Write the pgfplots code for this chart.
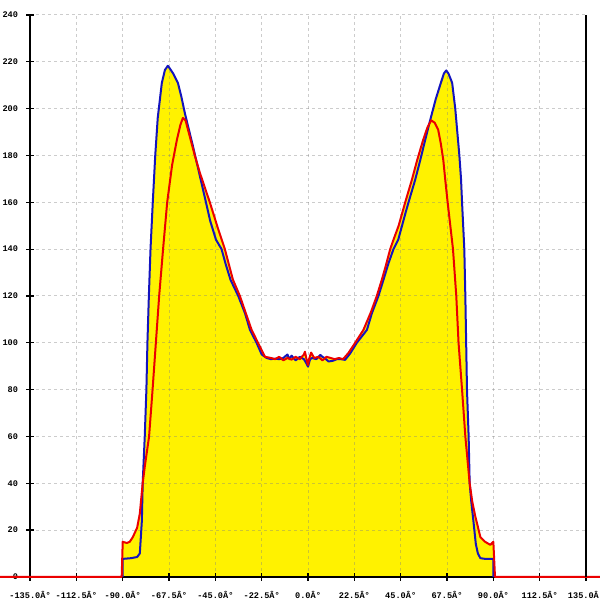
\documentclass[border=0pt]{standalone}
\usepackage{pgfplots}
\pgfplotsset{compat=1.18}
\usepackage{fontspec}
\setmonofont{Liberation Mono}
\definecolor{bl}{RGB}{20,20,190}
\definecolor{rd}{RGB}{235,0,0}
\pgfplotsset{
  layers/mylayers/.define layer set={axis background,fills,axis grid,axis ticks,axis lines,axis tick labels,main,axis descriptions,axis foreground}{},
}
\begin{document}
\begin{tikzpicture}
\begin{axis}[
  set layers=mylayers,
  scale only axis,
  width=278pt, height=281pt,
  xmin=-135, xmax=135, ymin=0, ymax=240,
  clip=false,
  axis x line=bottom, axis y line=left,
  axis line style={black, line width=0.6pt, -},
  xtick={-135,-112.5,-90,-67.5,-45,-22.5,0,22.5,45,67.5,90,112.5,135},
  xticklabels={-135.0Â°,-112.5Â°,-90.0Â°,-67.5Â°,-45.0Â°,-22.5Â°,0.0Â°,22.5Â°,45.0Â°,67.5Â°,90.0Â°,112.5Â°,135.0Â°},
  ytick={0,20,...,240},
  yticklabels={0,20,40,60,80,100,120,140,160,180,200,220,240},
  tick align=center, major tick length=4pt,
  tick style={black, line width=0.6pt},
  ticklabel style={font=\ttfamily\bfseries\fontsize{4.3}{5}\selectfont, text=black},
  xticklabel style={yshift=-1.5pt},
  yticklabel style={xshift=-0.5pt},
  grid=major,
  major grid style={gray, opacity=0.4, dash pattern=on 1.5pt off 1.5pt, line width=0.5pt},
]
\pgfplotstableread{
x y
-90 0
-90 7.7
-86 8
-83 8.5
-81.7 10
-80.7 24
-80.3 40
-79.3 60
-78.5 80
-78.0 100
-77.3 120
-76.5 140
-75.4 160
-74.2 180
-73.0 196
-71.0 211
-69.5 216.5
-68.1 218.3
-67 217
-65.5 215
-63.2 211
-61.5 205
-59.8 198
-55.9 184
-53 173
-50.1 162
-47.5 152
-44.7 144
-42.0 140
-39.8 133
-37.6 126.8
-33.9 120
-30.6 112.6
-28.2 105.5
-25.0 100
-22.5 95
-20.1 93.5
-18 93
-16 93.2
-14 93
-12 93.5
-10 95
-9 93
-8 94.5
-6 92.5
-4 94
-2 93
-1 91.5
0 89.8
1 93
2 93.5
4 93
6 94.8
7 94
8 93.5
10 92
12 92.3
14 93
16 93
18.0 92.7
20.5 95.5
23.7 100
28.6 105.5
31.0 112.6
34.2 120
36.6 126.8
39.1 134
41.5 140
43.8 144
47.2 155
48.8 160
52.0 169.5
54.5 178
57 187
59.3 195
62 204
64.5 211
66 215
67.1 216.3
68.2 215
70.0 211
71.5 200
72.5 190
73.5 180
74.3 170
74.8 160
75.9 140
76.4 120
76.8 100
77.2 80
78.0 60
78.5 40
79.3 32
80.3 24
81.5 14
82.5 10
83.7 8
86 7.7
90 7.7
90 0
}\bluedata
\pgfplotstableread{
x y
-149.6 0
-90.5 0
-90 15
-88 14.5
-86.6 15
-85.1 17
-83 21
-81.7 27
-80.3 40
-79.3 47
-77.2 60
-75.5 80
-73.9 100
-72.3 120
-70.4 140
-68.4 160
-66 176
-63.7 186.6
-62 193
-60.8 196
-59.5 195
-57.4 188
-55 180
-52.5 172.5
-50 166
-47.7 160
-43.8 149
-40.4 140
-36.5 127
-33.1 120
-30.2 112.6
-27.4 105.5
-24.3 100
-20.9 94
-18 93.5
-16 93
-14 94
-12 92.5
-10 93.5
-8 92.8
-6 94
-4 93
-2 95
-1.5 96.2
-0.5 92
0 90.5
0.5 93
1.5 95.8
3 93.5
5 94
7 92.5
9 94
11 93.5
13 93
15 93.5
17 93
19.5 95.5
22.9 100
26.9 105.5
30.5 113
33.4 120
35.8 126.8
37.8 133
39.9 140
41.5 144
44 150
47.2 160
50.4 169.5
53 178
55.9 186.6
58 192
59.8 195
61.5 194
63.2 191
64.5 185
65.7 178
66.6 170
67.8 160
70.4 140
72.0 120
73.1 100
74.8 80
76.4 60
78.5 40
79.8 32
81.2 26
83.7 17
86 15
88.5 13.7
90 15
90.8 0
141.8 0
}\reddata
\addplot[on layer=fills, fill=yellow, draw=none] table {\bluedata} -- cycle;
\addplot[on layer=fills, fill=yellow, draw=none] table {\reddata} -- cycle;
\addplot[bl, line width=1pt, line join=round] table {\bluedata};
\addplot[rd, line width=1pt, line join=round] table {\reddata};
\draw[black, line width=0.6pt] (rel axis cs:1,0) -- (rel axis cs:1,1);
\coordinate (bbl) at (axis cs:-149.6,-9.8);
\coordinate (btr) at (axis cs:141.8,246.4);
\end{axis}
\pgfresetboundingbox
\path[use as bounding box] (bbl) rectangle (btr);
\end{tikzpicture}
\end{document}
